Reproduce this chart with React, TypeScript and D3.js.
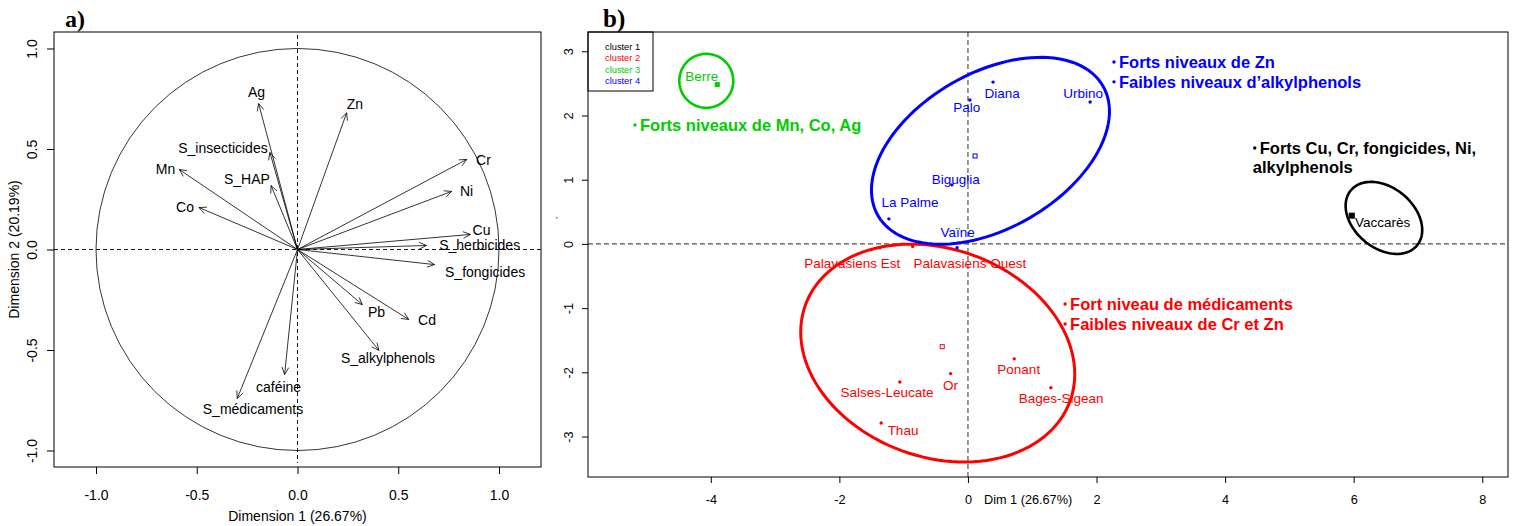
import React, { useEffect, useRef } from "react";
import * as d3 from "d3";

// ---------- panel a : variables on the correlation circle ----------
const varNames = ["Ag", "Zn", "S_insecticides", "Mn", "S_HAP", "Co", "Cr", "Ni", "Cu", "S_herbicides",
  "S_fongicides", "Pb", "Cd", "S_alkylphenols", "caféine", "S_médicaments"];
const varDim1 = [-0.193, 0.244, -0.137, -0.587, -0.131, -0.489, 0.84, 0.765, 0.858, 0.64,
  0.68, 0.322, 0.552, 0.404, -0.064, -0.299];
const varDim2 = [0.726, 0.68, 0.483, 0.398, 0.318, 0.209, 0.448, 0.289, 0.075, 0.02,
  -0.075, -0.274, -0.348, -0.502, -0.622, -0.741];
// where the labels sit (data units, text centre)
const varLabelX = [-0.203, 0.285, -0.37, -0.655, -0.251, -0.558, 0.923, 0.839, 0.913, 0.904,
  0.931, 0.392, 0.643, 0.449, -0.094, -0.221];
const varLabelY = [0.786, 0.726, 0.507, 0.398, 0.353, 0.209, 0.443, 0.289, 0.095, 0.02,
  -0.114, -0.313, -0.353, -0.542, -0.682, -0.791];
const ticksA = [-1, -0.5, 0, 0.5, 1];

// ---------- panel b : sites and clusters ----------
const siteNames = ["Vaccarès", "Berre", "Diana", "Palo", "Urbino", "Biguglia", "La Palme", "Vaïne",
  "Palavasiens Est", "Palavasiens Ouest", "Ponant", "Or", "Salses-Leucate", "Bages-Sigean", "Thau"];
const siteCluster = [0, 2, 3, 3, 3, 3, 3, 3, 1, 1, 1, 1, 1, 1, 1];
const siteDim1 = [5.97, -3.9, 0.39, 0.03, 1.9, -0.25, -1.23, -0.17, -1.37, -0.86, 0.72, -0.27, -1.06, 1.29, -1.35];
const siteDim2 = [0.44, 2.48, 2.52, 2.24, 2.21, 0.92, 0.39, -0.06, -0.06, -0.04, -1.79, -2.02, -2.15, -2.24, -2.79];
const siteLabelX = [6.45, -4.14, 0.53, -0.02, 1.79, -0.19, -0.9, -0.16, -1.8, 0.03, 0.79, -0.27, -1.26, 1.45, -1.01];
const siteLabelY = [0.34, 2.6, 2.35, 2.12, 2.35, 1.01, 0.64, 0.17, -0.3, -0.3, -1.96, -2.2, -2.32, -2.4, -2.9];

const clusterNames = ["cluster 1", "cluster 2", "cluster 3", "cluster 4"];
const clusterColors = ["#000000", "#ff0000", "#00cd00", "#0000ff"];
const centroidDim1 = [5.97, -0.4, -3.9, 0.11];
const centroidDim2 = [0.44, -1.6, 2.48, 1.37];
const centroidFilled = [true, false, true, false];
// hand drawn cluster ellipses: centre, semi axes, rotation (deg)
const ellCx = [6.47, -0.47, -4.07, 0.35];
const ellCy = [0.405, -1.7, 2.54, 1.45];
const ellA = [0.67, 2.19, 0.42, 2.02];
const ellB = [0.47, 1.62, 0.42, 1.21];
const ellAngle = [-40, -20, 0, 30];
const ellWidth = [2.6, 3, 2.6, 3];
const drawOrder = [1, 3, 2, 0];

const noteText = ["Forts niveaux de Mn, Co, Ag", "Forts niveaux de Zn", "Faibles niveaux d\u2019alkylphenols",
  "Forts Cu, Cr, fongicides, Ni,", "alkylphenols", "Fort niveau de médicaments", "Faibles niveaux de Cr et Zn"];
const noteBullet = [true, true, true, true, false, true, true];
const noteCluster = [2, 3, 3, 0, 0, 1, 1];
const noteX = [-5.21, 2.24, 2.24, 4.43, 4.43, 1.48, 1.48];
const noteY = [1.76, 2.74, 2.43, 1.4, 1.11, -1.03, -1.34];

const ticksBx = [-4, -2, 0, 2, 4, 6, 8];
const ticksBy = [-3, -2, -1, 0, 1, 2, 3];

const W = 1516, H = 526;
const sans = "'Liberation Sans', Arial, sans-serif";
const serif = "'Liberation Serif', 'Times New Roman', serif";

function drawA(svg) {
  const box = { l: 54, r: 541, t: 32, b: 467 };
  const x = d3.scaleLinear().domain([-1.2084, 1.2084]).range([box.l, box.r]);
  const y = d3.scaleLinear().domain([1.082, -1.082]).range([box.t, box.b]);
  const g = svg.append("g");
  const fmt = d => (+d).toFixed(1);

  g.append("ellipse")
    .attr("cx", x(0)).attr("cy", y(0))
    .attr("rx", x(1) - x(0)).attr("ry", y(-1) - y(0))
    .attr("fill", "none").attr("stroke", "#000").attr("stroke-width", 0.8);

  g.append("line").attr("x1", box.l).attr("x2", box.r).attr("y1", y(0)).attr("y2", y(0))
    .attr("stroke", "#000").attr("stroke-dasharray", "4,3").attr("stroke-width", 0.9);
  g.append("line").attr("x1", x(0)).attr("x2", x(0)).attr("y1", box.t + 3).attr("y2", box.b - 4)
    .attr("stroke", "#000").attr("stroke-dasharray", "4,3").attr("stroke-width", 0.9);

  // arrows
  varNames.forEach((name, i) => {
    const x0 = x(0), y0 = y(0), x1 = x(varDim1[i]), y1 = y(varDim2[i]);
    const ang = Math.atan2(y1 - y0, x1 - x0);
    const L = 8, spread = 25 * Math.PI / 180;
    const p = d3.path();
    p.moveTo(x0, y0); p.lineTo(x1, y1);
    p.moveTo(x1 - L * Math.cos(ang - spread), y1 - L * Math.sin(ang - spread));
    p.lineTo(x1, y1);
    p.lineTo(x1 - L * Math.cos(ang + spread), y1 - L * Math.sin(ang + spread));
    g.append("path").attr("d", p.toString()).attr("fill", "none")
      .attr("stroke", "#000").attr("stroke-width", 0.8);
    g.append("text").attr("x", x(varLabelX[i])).attr("y", y(varLabelY[i]))
      .attr("text-anchor", "middle").attr("dominant-baseline", "central")
      .attr("font-family", sans).attr("font-size", 14).text(name);
  });

  // axes
  g.append("g").attr("transform", `translate(0,${box.b})`)
    .call(d3.axisBottom(x).tickValues(ticksA).tickFormat(fmt).tickSize(7).tickPadding(16).tickSizeOuter(0))
    .call(a => a.select(".domain").remove())
    .attr("font-family", sans).attr("font-size", 14);
  g.append("g").attr("transform", `translate(${box.l},0)`)
    .call(d3.axisLeft(y).tickValues(ticksA).tickFormat(fmt).tickSize(7).tickSizeOuter(0))
    .call(a => a.select(".domain").remove())
    .attr("font-family", sans).attr("font-size", 14)
    .call(a => a.selectAll("text").attr("x", 0).attr("dy", 0).attr("text-anchor", "middle")
      .attr("transform", "translate(-17,0) rotate(-90)"));

  g.append("rect").attr("x", box.l).attr("y", box.t).attr("width", box.r - box.l).attr("height", box.b - box.t)
    .attr("fill", "none").attr("stroke", "#000").attr("stroke-width", 1);

  g.append("text").attr("x", x(0)).attr("y", 521).attr("text-anchor", "middle")
    .attr("font-family", sans).attr("font-size", 14).text("Dimension 1 (26.67%)");
  g.append("text").attr("transform", `translate(19,${y(0)}) rotate(-90)`).attr("text-anchor", "middle")
    .attr("font-family", sans).attr("font-size", 14).text("Dimension 2 (20.19%)");
  g.append("text").attr("x", 65).attr("y", 27).attr("font-family", serif).attr("font-weight", "bold")
    .attr("font-size", 24).text("a)");
}

function drawB(svg) {
  const box = { l: 588, r: 1508, t: 32, b: 477 };
  const x = d3.scaleLinear().domain([-5.91, 8.4]).range([box.l, box.r]);
  const y = d3.scaleLinear().domain([3.3, -3.63]).range([box.t, box.b]);
  const g = svg.append("g");

  g.append("line").attr("x1", box.l).attr("x2", box.r).attr("y1", y(0)).attr("y2", y(0))
    .attr("stroke", "#555").attr("stroke-dasharray", "5,3").attr("stroke-width", 1.2);
  g.append("line").attr("x1", x(0)).attr("x2", x(0)).attr("y1", box.t).attr("y2", box.b)
    .attr("stroke", "#555").attr("stroke-dasharray", "5,3").attr("stroke-width", 1.2);

  // cluster ellipses
  const line = d3.line().x(p => x(p[0])).y(p => y(p[1])).curve(d3.curveLinearClosed);
  drawOrder.forEach(k => {
    const a = ellAngle[k] * Math.PI / 180;
    const pts = d3.range(0, 360, 3).map(t => {
      const r = t * Math.PI / 180;
      const ex = ellA[k] * Math.cos(r), ey = ellB[k] * Math.sin(r);
      return [ellCx[k] + ex * Math.cos(a) - ey * Math.sin(a), ellCy[k] + ex * Math.sin(a) + ey * Math.cos(a)];
    });
    g.append("path").attr("d", line(pts)).attr("fill", "none")
      .attr("stroke", clusterColors[k]).attr("stroke-width", ellWidth[k]);
  });

  // centroids
  clusterNames.forEach((c, k) => {
    const s = centroidFilled[k] ? (k === 0 ? 5 : 4) : 4;
    g.append("rect").attr("x", x(centroidDim1[k]) - s / 2).attr("y", y(centroidDim2[k]) - s / 2)
      .attr("width", s).attr("height", s)
      .attr("fill", centroidFilled[k] ? clusterColors[k] : "none")
      .attr("stroke", clusterColors[k]).attr("stroke-width", 1);
  });

  // sites
  siteNames.forEach((name, i) => {
    const col = clusterColors[siteCluster[i]];
    g.append("circle").attr("cx", x(siteDim1[i])).attr("cy", y(siteDim2[i])).attr("r", 1.7).attr("fill", col);
    g.append("text").attr("x", x(siteLabelX[i])).attr("y", y(siteLabelY[i]))
      .attr("text-anchor", "middle").attr("dominant-baseline", "central")
      .attr("font-family", sans).attr("font-size", 13.5).attr("fill", col).text(name);
  });

  // annotations
  noteText.forEach((t, i) => {
    const col = clusterColors[noteCluster[i]];
    const nx = x(noteX[i]), ny = y(noteY[i]);
    if (noteBullet[i]) {
      g.append("circle").attr("cx", nx + 2).attr("cy", ny - 6).attr("r", 1.7).attr("fill", col);
    }
    g.append("text").attr("x", noteBullet[i] ? nx + 7 : nx).attr("y", ny)
      .attr("font-family", sans).attr("font-weight", "bold").attr("font-size", 16.5)
      .attr("fill", col).text(t);
  });

  // axes
  g.append("g").attr("transform", `translate(0,${box.b})`)
    .call(d3.axisBottom(x).tickValues(ticksBx).tickFormat(d => String(d)).tickSize(6).tickPadding(12).tickSizeOuter(0))
    .call(a => a.select(".domain").remove())
    .attr("font-family", sans).attr("font-size", 12.7);
  g.append("g").attr("transform", `translate(${box.l},0)`)
    .call(d3.axisLeft(y).tickValues(ticksBy).tickFormat(d => String(d)).tickSize(6).tickSizeOuter(0))
    .call(a => a.select(".domain").remove())
    .attr("font-family", sans).attr("font-size", 12.7)
    .call(a => a.selectAll("text").attr("x", 0).attr("dy", 0).attr("text-anchor", "middle")
      .attr("transform", "translate(-15,0) rotate(-90)"));

  g.append("text").attr("x", 984).attr("y", box.b + 18).attr("dy", "0.71em")
    .attr("font-family", sans).attr("font-size", 12.7).text("Dim 1 (26.67%)");

  // legend
  g.append("rect").attr("x", box.l).attr("y", box.t).attr("width", 65).attr("height", 59)
    .attr("fill", "#fff").attr("stroke", "#000").attr("stroke-width", 1);
  clusterNames.forEach((c, k) => {
    g.append("text").attr("x", 605).attr("y", 47 + k * 11.3).attr("dominant-baseline", "central")
      .attr("font-family", sans).attr("font-size", 9.3).attr("fill", clusterColors[k]).text(c);
  });

  g.append("rect").attr("x", box.l).attr("y", box.t).attr("width", box.r - box.l).attr("height", box.b - box.t)
    .attr("fill", "none").attr("stroke", "#000").attr("stroke-width", 1);
  g.append("rect").attr("x", 556).attr("y", 217).attr("width", 1.5).attr("height", 1.5).attr("fill", "#777");

  g.append("text").attr("x", 603).attr("y", 27).attr("font-family", serif).attr("font-weight", "bold")
    .attr("font-size", 25).text("b)");
}

export default function App() {
  const ref = useRef<SVGSVGElement>(null);
  useEffect(() => {
    const svg = d3.select(ref.current);
    svg.selectAll("*").remove();
    drawA(svg);
    drawB(svg);
  }, []);
  return (
    <svg ref={ref} width={W} height={H}
      style={{ position: "fixed", left: 0, top: 0, background: "#fff" }} />
  );
}
